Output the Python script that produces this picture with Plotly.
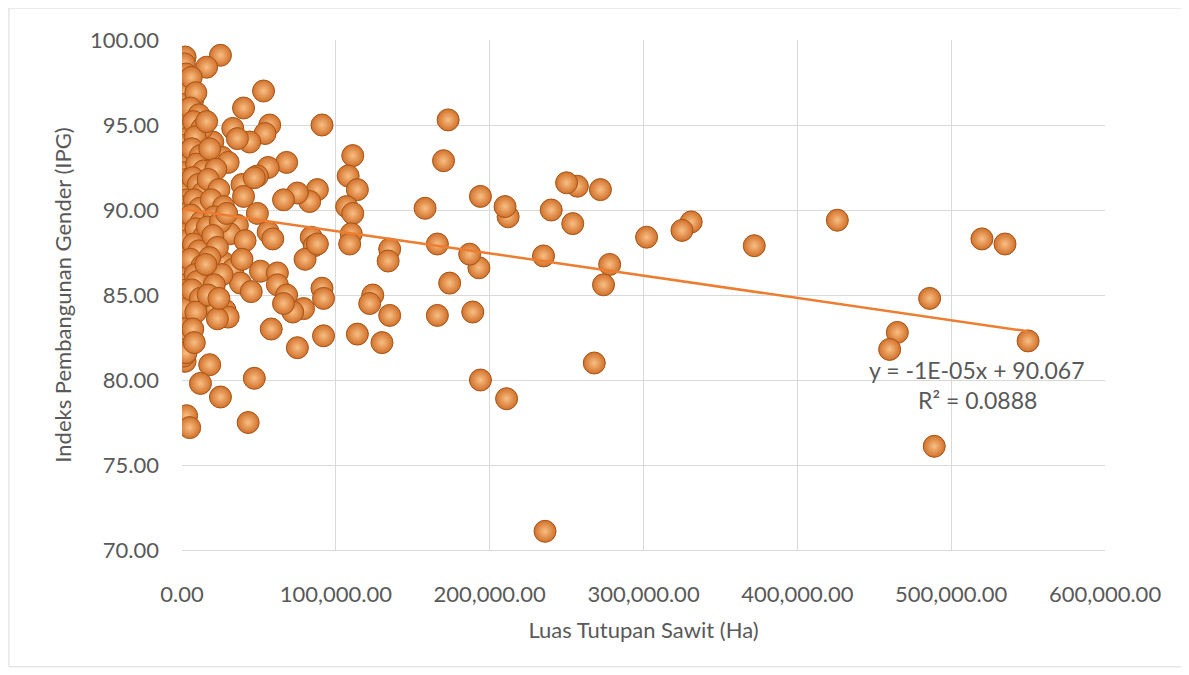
import numpy as np
import plotly.graph_objects as go

# Luas Tutupan Sawit (Ha) and IPG values
luas_sawit = [
    # right / sparse area
    550000, 535000, 520000, 489000, 486000, 465000, 460000, 426000, 372000, 331000,
    325000, 302000, 278000, 274000, 272000, 268000, 257000, 250000, 254000, 240000,
    235000, 236000, 212000, 210000, 211000, 194000, 194000, 193000, 187000, 189000,
    174000, 173000, 170000, 166000, 166000, 158000,
    # middle
    91000, 111000, 108000, 114000, 88000, 83000, 107000, 111000, 110000, 109000,
    84000, 86000, 135000, 134000, 80000, 91000, 92000, 124000, 122000, 135000,
    79000, 92000, 114000, 130000, 75000,
    # top-left
    2000, 25000, 16000, 53000, 40000, 33000, 57000, 54000, 44000, 36000,
    20000, 7000, 68000, 56000, 49000, 26000, 30000,
    # mid-left
    39000, 40000, 47000, 75000, 66000, 49000, 36000, 31000, 41000, 56000,
    59000, 88000, 27000, 33000, 39000, 38000, 51000, 62000, 62000, 68000,
    45000, 28000, 20000, 12000, 2000, 2000, 72000, 66000,
    # lower-left
    5000, 30000, 23000, 58000, 2000, 18000, 12000, 25000, 47000, 3000,
    5000, 43000,
    # dense column near zero
    1500, 2500, 1200, 3000, 1800, 800, 2600, 1400, 3200, 900,
    2200, 1600, 3500, 1000, 2400, 1300, 2900, 700, 2000, 3300,
    1100, 2700, 1500, 600, 2300, 3100, 1200, 2800, 900, 2100,
    1700, 3000, 1000, 2500, 1400, 2200, 900, 1800, 1100, 2600,
    # second column
    6000, 9000, 5500, 11000, 7500, 13000, 8500, 6500, 12000, 9500,
    14000, 7000, 10500, 13500, 8000, 11500, 6000, 12500, 9000, 14500,
    7500, 11000, 5500, 13000, 8500, 10000, 6500, 12000, 9000, 7000,
    8000,
    # third column
    16000, 18000, 22000, 17000, 24000, 19000, 27000, 21000, 16500, 25000,
    29000, 20000, 23000, 18000, 26000, 21000, 17000, 15500, 24000,
]

ipg = [
    82.3, 88.0, 88.3, 76.1, 84.8, 82.8, 81.8, 89.4, 87.9, 89.3,
    88.8, 88.4, 86.8, 85.6, 91.2, 81.0, 91.4, 91.6, 89.2, 90.0,
    87.3, 71.1, 89.6, 90.2, 78.9, 90.8, 80.0, 86.6, 87.4, 84.0,
    85.7, 95.3, 92.9, 88.0, 83.8, 90.1,
    95.0, 93.2, 92.0, 91.2, 91.2, 90.5, 90.2, 89.8, 88.6, 88.0,
    88.4, 87.9, 87.7, 87.0, 87.1, 85.4, 84.8, 85.0, 84.5, 83.8,
    84.2, 82.6, 82.7, 82.2, 81.9,
    99.0, 99.1, 98.4, 97.0, 96.0, 94.8, 95.0, 94.5, 94.0, 94.2,
    94.0, 96.5, 92.8, 92.5, 92.0, 93.1, 92.8,
    91.5, 90.8, 91.9, 91.0, 90.6, 89.8, 89.1, 88.6, 88.2, 88.7,
    88.3, 88.0, 86.9, 86.5, 87.1, 85.7, 86.4, 86.3, 85.6, 85.0,
    85.2, 84.1, 84.4, 85.3, 84.9, 87.6, 84.0, 84.5,
    83.4, 83.7, 83.6, 83.0, 81.1, 80.9, 79.8, 79.0, 80.1, 77.9,
    77.2, 77.5,
    98.6, 98.0, 97.5, 97.2, 96.8, 96.2, 95.9, 95.4, 95.0, 94.6,
    94.2, 93.8, 93.4, 93.0, 92.6, 92.2, 91.8, 91.4, 91.0, 90.6,
    90.2, 89.8, 89.4, 89.0, 88.6, 88.2, 87.2, 86.8, 86.4, 86.0,
    85.6, 85.3, 84.6, 84.2, 83.0, 82.6, 82.2, 81.8, 81.4, 81.6,
    97.8, 96.9, 96.0, 95.6, 95.2, 94.8, 94.3, 93.6, 93.2, 92.7,
    92.3, 91.9, 91.5, 91.0, 90.6, 90.1, 89.7, 89.3, 88.9, 88.5,
    88.0, 87.6, 87.1, 86.7, 86.2, 85.8, 85.3, 84.8, 84.0, 83.0,
    82.2,
    95.2, 93.6, 92.4, 91.8, 91.2, 90.6, 90.2, 89.6, 89.0, 89.3,
    89.8, 88.5, 87.8, 87.2, 86.2, 85.6, 85.0, 86.8, 84.8,
]

# Linear trend line as displayed (slope)
trend_slope = -1.31e-5
trend_intercept = 90.067
equation_text = "y = -1E-05x + 90.067"
r2_text = "R² = 0.0888"

x_ticks = [0, 100000, 200000, 300000, 400000, 500000, 600000]
y_ticks = [70, 75, 80, 85, 90, 95, 100]

FONT = "Lato"
GRAY = "#595959"

xs = np.array(luas_sawit, dtype=float)
trend_x = np.array([xs.min(), xs.max()])
trend_y = trend_intercept + trend_slope * trend_x

fig = go.Figure()
fig.add_trace(go.Scatter(
    x=luas_sawit, y=ipg, mode="markers",
    marker=dict(size=22, color="#D2702A",
                gradient=dict(type="radial", color="#F8BF84"),
                line=dict(color="#A35518", width=1)),
    showlegend=False, hoverinfo="x+y",
))
fig.add_trace(go.Scatter(
    x=trend_x, y=trend_y, mode="lines",
    line=dict(color="#ED7D31", width=2.5),
    showlegend=False, hoverinfo="skip",
))

fig.add_annotation(x=517000, y=80.6, xref="x", yref="y", text=equation_text,
                   showarrow=False, font=dict(family=FONT, size=23, color=GRAY))
fig.add_annotation(x=517000, y=78.8, xref="x", yref="y", text=r2_text,
                   showarrow=False, font=dict(family=FONT, size=23, color=GRAY))

# outer chart border
fig.add_shape(type="rect", xref="paper", yref="paper",
              x0=-0.1875, x1=1.0835, y0=-0.229, y1=1.0627,
              line=dict(color="#D9D9D9", width=1), fillcolor="rgba(0,0,0,0)",
              layer="below")

fig.update_layout(
    width=1181, height=667,
    margin=dict(l=174, r=84, t=32, b=125),
    paper_bgcolor="white", plot_bgcolor="white",
    font=dict(family=FONT, color=GRAY),
    xaxis=dict(
        range=[0, 600000], tickvals=x_ticks, tickformat=",.2f",
        showgrid=True, gridcolor="#D9D9D9", gridwidth=1,
        zeroline=False, showline=True, linecolor="#D9D9D9", mirror=False,
        tickfont=dict(family=FONT, size=22, color=GRAY),
        ticklabelstandoff=25,
        title=dict(text="Luas Tutupan Sawit (Ha)", standoff=16,
                   font=dict(family=FONT, size=22, color=GRAY)),
    ),
    yaxis=dict(
        range=[70, 100], tickvals=y_ticks, tickformat=".2f",
        showgrid=True, gridcolor="#D9D9D9", gridwidth=1,
        zeroline=False, showline=False,
        tickfont=dict(family=FONT, size=22, color=GRAY),
        ticklabelstandoff=22,
        title=dict(text="Indeks Pembangunan Gender (IPG)", standoff=12,
                   font=dict(family=FONT, size=22, color=GRAY)),
    ),
)

fig.write_html("out.html")
